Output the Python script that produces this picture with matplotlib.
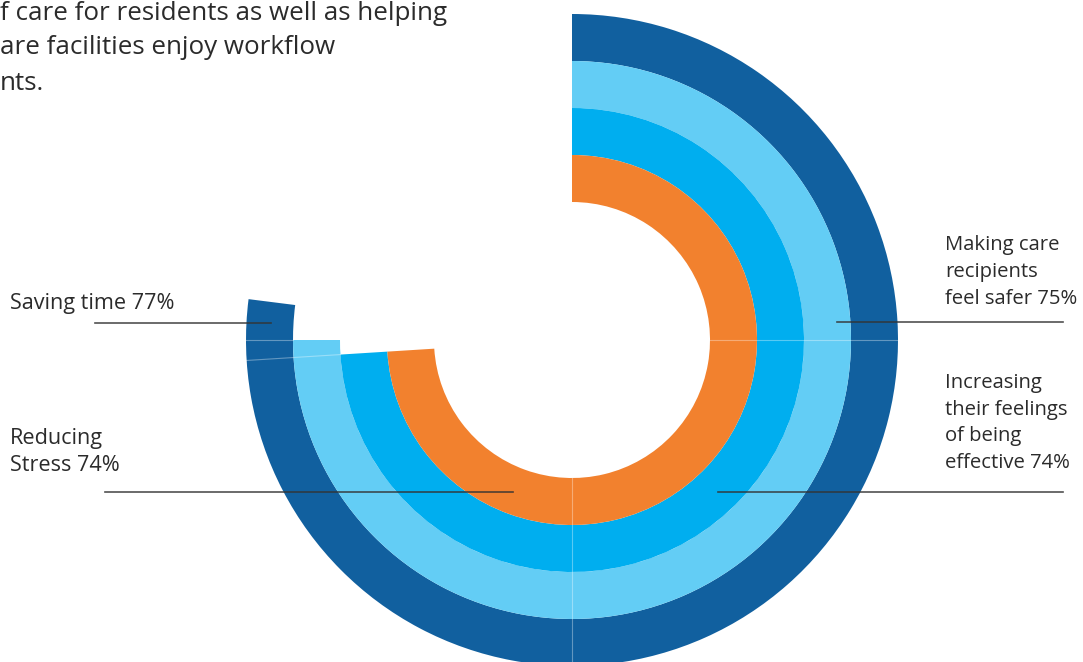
import numpy as np
import matplotlib.pyplot as plt
from matplotlib.patches import Wedge

## radial bar chart, outer ring first
labels = ["Saving time 77%",
          "Making care\nrecipients\nfeel safer 75%",
          "Increasing\ntheir feelings\nof being\neffective 74%",
          "Reducing\nStress 74%"]
values = [77, 75, 74, 74]
colors = ["#11609f", "#63cdf5", "#00aeef", "#f2812e"]

intro = ["f care for residents as well as helping",
         "are facilities enjoy workflow",
         "nts."]

W, H = 1083, 662
fig = plt.figure(figsize=(W/100, H/100), dpi=100)
ax = fig.add_axes([0, 0, 1, 1])
ax.set_xlim(0, W)
ax.set_ylim(0, H)
ax.set_aspect('equal')
ax.axis('off')

plt.rcParams['font.family'] = ['Open Sans', 'DejaVu Sans']
txt = '#2b2b2b'

cx, cy = 572, H-340
r_out = 326
ring_w = 47

for i in range(len(values)):
    r = r_out - i*ring_w
    sweep = values[i]/100*360
    ax.add_patch(Wedge((cx, cy), r, 90-sweep, 90, width=ring_w,
                       facecolor=colors[i], edgecolor='none'))

# faint segment seams
seam = dict(color='white', alpha=0.35, lw=0.8)
r_in = r_out - 4*ring_w
ax.plot([cx+r_in, cx+r_out], [cy, cy], **seam)
ax.plot([cx, cx], [cy-r_in, cy-r_out], **seam)
ax.plot([cx-r_out+ring_w, cx-r_out], [cy, cy], **seam)
a = np.deg2rad(90-0.74*360)
ax.plot([cx+(r_out-2*ring_w)*np.cos(a), cx+r_out*np.cos(a)],
        [cy+(r_out-2*ring_w)*np.sin(a), cy+r_out*np.sin(a)], **seam)

# leader lines
lc = dict(color='#333333', lw=1.2, alpha=0.85)
ax.plot([95, 271], [H-323, H-323], **lc)
ax.plot([837, 1063], [H-322, H-322], **lc)
ax.plot([718, 1063], [H-492, H-492], **lc)
ax.plot([105, 513], [H-492, H-492], **lc)

fs = 15.6
ax.text(10, H-303, labels[0], fontsize=fs, color=txt, va='center', ha='left')
ax.text(10, H-452, labels[3], fontsize=fs, color=txt, va='center', ha='left',
        linespacing=1.36)
# right side labels a touch smaller so they fit
ax.text(945, H-272, labels[1], fontsize=14.6, color=txt, va='center', ha='left',
        linespacing=1.44)
ax.text(945, H-423, labels[2], fontsize=14.6, color=txt, va='center', ha='left',
        linespacing=1.44)

for j, line in enumerate(intro):
    ax.text(0, H-13-35*j, line, fontsize=18.7, color=txt, va='center', ha='left')

fig.savefig('out.png', dpi=100)
